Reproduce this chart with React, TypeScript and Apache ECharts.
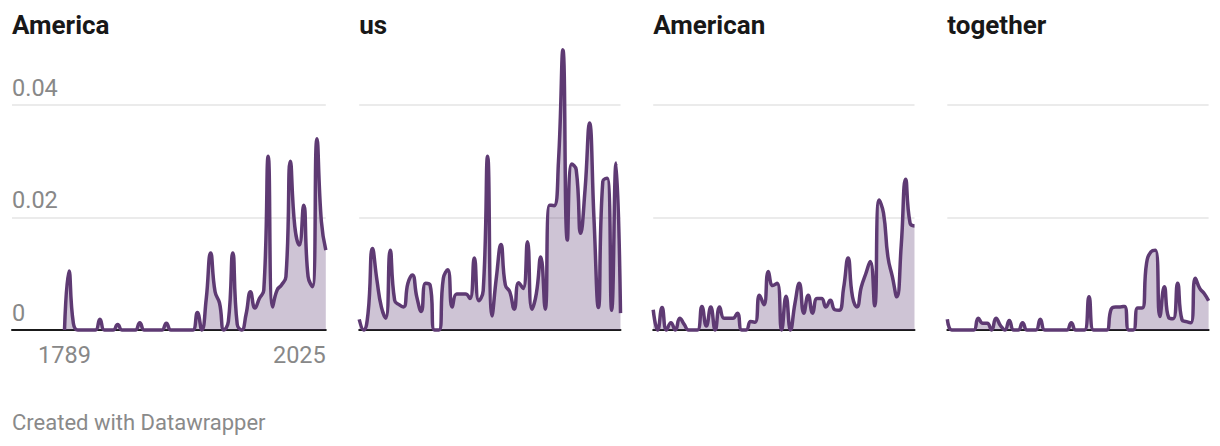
import React, { useEffect, useRef } from "react";
import * as echarts from "echarts";

const years = [
  1789, 1793, 1797, 1801, 1805, 1809, 1813, 1817, 1821, 1825,
  1829, 1833, 1837, 1841, 1845, 1849, 1853, 1857, 1861, 1865,
  1869, 1873, 1877, 1881, 1885, 1889, 1893, 1897, 1901, 1905,
  1909, 1913, 1917, 1921, 1925, 1929, 1933, 1937, 1941, 1945,
  1949, 1953, 1957, 1961, 1965, 1969, 1973, 1977, 1981, 1985,
  1989, 1993, 1997, 2001, 2005, 2009, 2013, 2017, 2021, 2025,
];

const panelTitles = ["America", "us", "American", "together"];

const americaValues = [
  0, 0.0105, 0.0012, 0, 0, 0, 0, 0, 0.0019, 0,
  0, 0, 0.001, 0, 0, 0, 0, 0.0013, 0, 0,
  0, 0, 0, 0.0012, 0, 0, 0, 0, 0, 0,
  0.0031, 0, 0.0055, 0.0137, 0.0068, 0.0048, 0, 0.0015, 0.0137, 0.001,
  0, 0.0028, 0.0068, 0.0039, 0.0056, 0.0071, 0.0309, 0.0041, 0.0071, 0.008,
  0.0095, 0.03, 0.0184, 0.0151, 0.0222, 0.0095, 0.0077, 0.034, 0.0193, 0.0142,
];

const usValues = [
  0.0019, 0, 0.003, 0.0145, 0.0089, 0.0041, 0.0021, 0.0142, 0.0053, 0.0045,
  0.0041, 0.0083, 0.0098, 0.0059, 0.0033, 0.0083, 0.008, 0, 0, 0.0092,
  0.0107, 0.0041, 0.0064, 0.0064, 0.0064, 0.0056, 0.0128, 0.0052, 0.007, 0.0309,
  0.0025, 0.0095, 0.0152, 0.008, 0.0068, 0.0037, 0.0084, 0.0074, 0.0157, 0.0037,
  0.0065, 0.013, 0.0037, 0.0222, 0.0221, 0.03, 0.0498, 0.016, 0.0295, 0.0285,
  0.0172, 0.025, 0.0368, 0.02, 0.004, 0.0264, 0.027, 0.0035, 0.0297, 0.003,
];

const americanValues = [
  0.0036, 0, 0.004, 0, 0.0013, 0, 0.0021, 0.001, 0, 0,
  0, 0.0042, 0.0007, 0.0041, 0, 0.0041, 0.0021, 0.0021, 0.0021, 0.003,
  0, 0, 0.0015, 0.0014, 0.0062, 0.0045, 0.0104, 0.0079, 0.0083, 0,
  0.006, 0, 0.0047, 0.0083, 0.003, 0.0062, 0.003, 0.0056, 0.0056, 0.0041,
  0.0053, 0.0036, 0.0035, 0.0075, 0.0128, 0.0059, 0.0041, 0.0077, 0.01, 0.0122,
  0.0043, 0.0231, 0.0208, 0.013, 0.0095, 0.0059, 0.015, 0.0268, 0.019, 0.0185,
];

const togetherValues = [
  0.0019, 0, 0, 0, 0, 0, 0, 0.0021, 0.0012, 0.0012,
  0, 0.0021, 0.0008, 0, 0.0017, 0, 0, 0.0013, 0, 0,
  0, 0.0019, 0, 0, 0, 0, 0, 0, 0.0013, 0,
  0, 0, 0.0059, 0, 0, 0, 0, 0.0037, 0.0041, 0.0041,
  0.0042, 0, 0, 0.0039, 0.0039, 0.0119, 0.0139, 0.0142, 0.0024, 0.0077,
  0.0022, 0.002, 0.0083, 0.0018, 0.0015, 0.0013, 0.0092, 0.0074, 0.0065, 0.0052,
];

const panelValues = [americaValues, usValues, americanValues, togetherValues];

const yTickValues = [0, 0.02, 0.04];
const xTickLabels = [1789, 2025];
const footerText = "Created with Datawrapper";

export default function App() {
  const ref = useRef<HTMLDivElement>(null);

  useEffect(() => {
    if (!ref.current) return;
    const chart = echarts.init(ref.current, null, { renderer: "svg" });

    const font = "Roboto, 'Noto Sans', Arial, sans-serif";
    const lineColor = "#5e3a73";
    const zeroY = 330;
    const pxPerUnit = 5625;
    const yMax = 0.05;
    const gridTop = zeroY - yMax * pxPerUnit;
    const gridBottom = 446 - zeroY;
    const dataWidth = 261.3;

    const layout = [
      { gridLeft: 12, dataLeft: 64.5 },
      { gridLeft: 359.2, dataLeft: 359.2 },
      { gridLeft: 653.2, dataLeft: 653.2 },
      { gridLeft: 947.3, dataLeft: 947.3 },
    ];

    const firstYear = years[0];
    const lastYear = years[years.length - 1];
    const span = lastYear - firstYear;

    const grids = layout.map((l) => ({
      left: l.gridLeft,
      top: gridTop,
      width: l.dataLeft + dataWidth - l.gridLeft,
      bottom: gridBottom,
      containLabel: false,
    }));

    const xAxes = layout.map((l, i) => {
      const extra = ((l.dataLeft - l.gridLeft) / dataWidth) * span;
      return {
        type: "value",
        gridIndex: i,
        min: firstYear - extra,
        max: lastYear,
        axisLine: { show: true, onZero: false, lineStyle: { color: "#1a1a1a", width: 2 } },
        axisTick: { show: false },
        splitLine: { show: false },
        axisLabel:
          i === 0
            ? {
                show: true,
                customValues: xTickLabels,
                formatter: (v: number) => String(Math.round(v)),
                fontSize: 23.5,
                lineHeight: 23,
                color: "#888888",
                fontFamily: font,
                margin: 13,
                alignMaxLabel: "right",
              }
            : { show: false },
      };
    });

    const yAxes = layout.map((l, i) => ({
      type: "value",
      gridIndex: i,
      min: 0,
      max: yMax,
      interval: 0.02,
      axisLine: { show: false },
      axisTick: { show: false },
      splitLine: {
        show: true,
        showMinLine: false,
        showMaxLine: false,
        lineStyle: { color: "#e4e4e4", width: 1.6 },
      },
      axisLabel:
        i === 0
          ? {
              show: true,
              inside: true,
              margin: 0,
              customValues: yTickValues,
              formatter: (v: number) => (v === 0 ? "0" : v.toFixed(2)),
              fontSize: 23.5,
              lineHeight: 23,
              color: "#888888",
              fontFamily: font,
              verticalAlign: "bottom",
              align: "left",
              padding: [0, 0, 6, 0],
            }
          : { show: false },
    }));

    const series = panelValues.map((vals, i) => ({
      type: "line",
      name: panelTitles[i],
      xAxisIndex: i,
      yAxisIndex: i,
      data: years.map((yr, j) => [yr, vals[j]]),
      smooth: 0.5,
      symbol: "none",
      clip: false,
      lineStyle: { color: lineColor, width: 3.5 },
      areaStyle: { color: lineColor, opacity: 0.3 },
      z: 3,
    }));

    const titles = [
      ...panelTitles.map((t, i) => ({
        text: t,
        left: layout[i].gridLeft,
        top: 11.5,
        padding: 0,
        textStyle: {
          fontSize: 26,
          lineHeight: 26,
          fontWeight: "bold",
          color: "#181818",
          fontFamily: font,
        },
      })),
      {
        text: footerText,
        left: 12,
        top: 409.5,
        padding: 0,
        textStyle: {
          fontSize: 22,
          lineHeight: 26,
          fontWeight: "normal",
          color: "#8a8a8a",
          fontFamily: font,
        },
      },
    ];

    chart.setOption({
      animation: false,
      backgroundColor: "#ffffff",
      title: titles,
      grid: grids,
      xAxis: xAxes,
      yAxis: yAxes,
      series,
    });

    return () => {
      chart.dispose();
    };
  }, []);

  return (
    <div
      ref={ref}
      style={{
        position: "fixed",
        left: 0,
        top: 0,
        width: 1220,
        height: 446,
        background: "#ffffff",
      }}
    />
  );
}
